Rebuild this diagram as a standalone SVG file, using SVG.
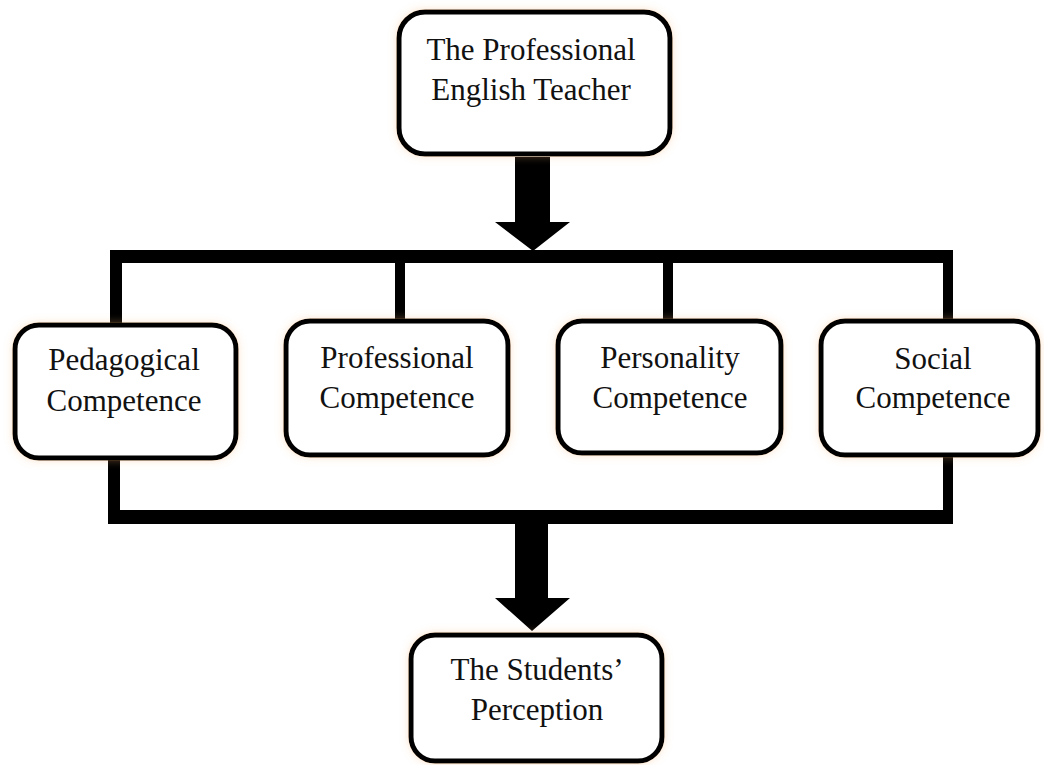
<svg xmlns="http://www.w3.org/2000/svg" width="1044" height="765" viewBox="0 0 1044 765">
  <style>
    .box { fill: #ffffff; stroke: #000000; stroke-width: 5; filter: url(#glow); }
    .lbl { font-family: "Liberation Serif", "Times New Roman", serif; font-size: 31px; fill: #111111; text-anchor: middle; }
    .bar { fill: #000000; }
  </style>
  <defs>
    <filter id="glow" x="-10%" y="-10%" width="120%" height="120%">
      <feDropShadow dx="0" dy="0" stdDeviation="4" flood-color="#f5b070" flood-opacity="0.35"/>
    </filter>
  </defs>
  <rect width="1044" height="765" fill="#ffffff"/>

  <g id="connectors">
    <!-- arrow from top node -->
    <polygon class="bar" points="515,157 550,157 550,222 570,222 533,251 495,222 515,222"/>
    <!-- top distribution bar -->
    <rect class="bar" x="110" y="250" width="843" height="13"/>
    <rect class="bar" x="110" y="250" width="12" height="73"/>
    <rect class="bar" x="395" y="250" width="10" height="70"/>
    <rect class="bar" x="663" y="250" width="10" height="70"/>
    <rect class="bar" x="943" y="250" width="10" height="70"/>
    <!-- bottom collecting bar -->
    <rect class="bar" x="108" y="458" width="12" height="66"/>
    <rect class="bar" x="943" y="456" width="10" height="68"/>
    <rect class="bar" x="108" y="510" width="845" height="14"/>
    <!-- arrow to bottom node -->
    <polygon class="bar" points="515,520 548,520 548,598 570,598 532,631 495,598 515,598"/>
  </g>

  <g id="node-teacher">
    <rect class="box" x="399" y="12" width="271" height="142" rx="26"/>
    <text class="lbl" x="531" y="60">The Professional</text>
    <text class="lbl" x="531" y="100">English Teacher</text>
  </g>

  <g id="node-pedagogical">
    <rect class="box" x="15" y="325" width="221" height="133" rx="24"/>
    <text class="lbl" x="124" y="370">Pedagogical</text>
    <text class="lbl" x="124" y="411">Competence</text>
  </g>

  <g id="node-professional">
    <rect class="box" x="286" y="321" width="222" height="134" rx="24"/>
    <text class="lbl" x="397" y="368">Professional</text>
    <text class="lbl" x="397" y="408">Competence</text>
  </g>

  <g id="node-personality">
    <rect class="box" x="558" y="321" width="223" height="132" rx="24"/>
    <text class="lbl" x="670" y="368">Personality</text>
    <text class="lbl" x="670" y="408">Competence</text>
  </g>

  <g id="node-social">
    <rect class="box" x="821" y="321" width="217" height="134" rx="24"/>
    <text class="lbl" x="933" y="369">Social</text>
    <text class="lbl" x="933" y="408">Competence</text>
  </g>

  <g id="node-students">
    <rect class="box" x="411" y="635" width="251" height="126" rx="24"/>
    <text class="lbl" x="537" y="680">The Students’</text>
    <text class="lbl" x="537" y="720">Perception</text>
  </g>
</svg>
